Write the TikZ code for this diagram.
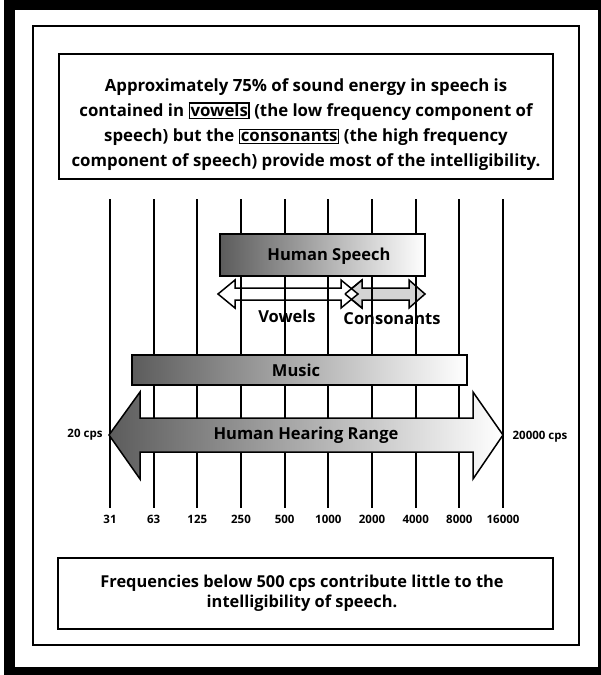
\documentclass[tikz,border=0pt]{standalone}
\usepackage{fontspec}
\setmainfont{Open Sans}
\begin{document}
\begin{tikzpicture}[x=1pt,y=-1pt,
  txt/.style={font=\bfseries\fontsize{16.8}{25}\selectfont, align=center, inner sep=0pt},
  btxt/.style={font=\bfseries\fontsize{16.4}{20.5}\selectfont, align=center, inner sep=0pt},
  lbl/.style={font=\bfseries\fontsize{16.5}{18}\selectfont, inner sep=0pt},
  axl/.style={font=\bfseries\fontsize{11.5}{13}\selectfont, inner sep=0pt},
  tbox/.style={draw=black, line width=2pt},
  gridline/.style={draw=black, line width=1.8pt},
  gbar/.style={draw=black, line width=1.5pt, left color=black!64, right color=white},
  harrow/.style={draw=black, line width=1.5pt, line join=miter}
]
\useasboundingbox (0,0) rectangle (601,675);
% outer black frame
\fill[black] (4,0) rectangle (601,675);
\fill[white] (15,10) rectangle (598,667);
% inner frame
\draw[line width=1.5pt] (33,26) rectangle (579,645);
% top text box
\draw[tbox] (59,54) rectangle (553,179);
\node[txt] (toptext) at (306,125) {%
Approximately 75\% of sound energy in speech is\\
contained in {\setlength\fboxsep{0.5pt}\setlength\fboxrule{1.5pt}\fbox{vowels}} (the low frequency component of\\
speech) but the {\setlength\fboxsep{0.5pt}\setlength\fboxrule{1.5pt}\fbox{consonants}} (the high frequency\\
component of speech) provide most of the intelligibility.};
% bottom text box
\draw[tbox] (58,558) rectangle (553,629);
\node[btxt] (bottext) at (302,593) {Frequencies below 500 cps contribute little to the\\intelligibility of speech.};
% speech arrows (drawn below grid lines)
\path[harrow, fill=black!17] (345,294) -- (362,280) -- (362,288) -- (409,288) -- (409,280)
  -- (425,294) -- (409,308) -- (409,300) -- (362,300) -- (362,308) -- cycle;
\path[harrow, fill=white] (218,294) -- (235,280) -- (235,288) -- (341,288) -- (341,280)
  -- (358,294) -- (341,308) -- (341,300) -- (235,300) -- (235,308) -- cycle;
\path[harrow] (345,294) -- (362,280) (345,294) -- (362,308);
% grid lines
\foreach \i/\t in {0/31,1/63,2/125,3/250,4/500,5/1000,6/2000,7/4000,8/8000,9/16000}{
  \coordinate (top\i) at ({110+43.67*\i},199);
  \coordinate (bot\i) at ({110+43.67*\i},508);
  \draw[gridline] (top\i) -- (bot\i);
  \node[axl] (ax\i) at ({110+43.67*\i},519) {\t};
}
% human speech box
\path[gbar] (220,234) rectangle (425,276);
\node[lbl] (speech) at (329,256) {Human Speech};
\node[lbl] (vowels) at (287,316) {Vowels};
\node[lbl] (cons) at (392,319) {Consonants};
% music box
\path[gbar] (132,355) rectangle (467,385);
\node[lbl] (music) at (296,370) {Music};
% hearing range arrow
\path[harrow, left color=black!64, right color=white] (109,435) -- (140,392) -- (140,418) -- (473,418)
  -- (473,392) -- (503,435) -- (473,479) -- (473,452) -- (140,452) -- (140,479) -- cycle;
\node[lbl] (hear) at (306,435) {Human Hearing Range};
\node[axl] (lo) at (85,435) {20 cps};
\node[axl] (hi) at (540,437) {20000 cps};
\end{tikzpicture}
\end{document}
